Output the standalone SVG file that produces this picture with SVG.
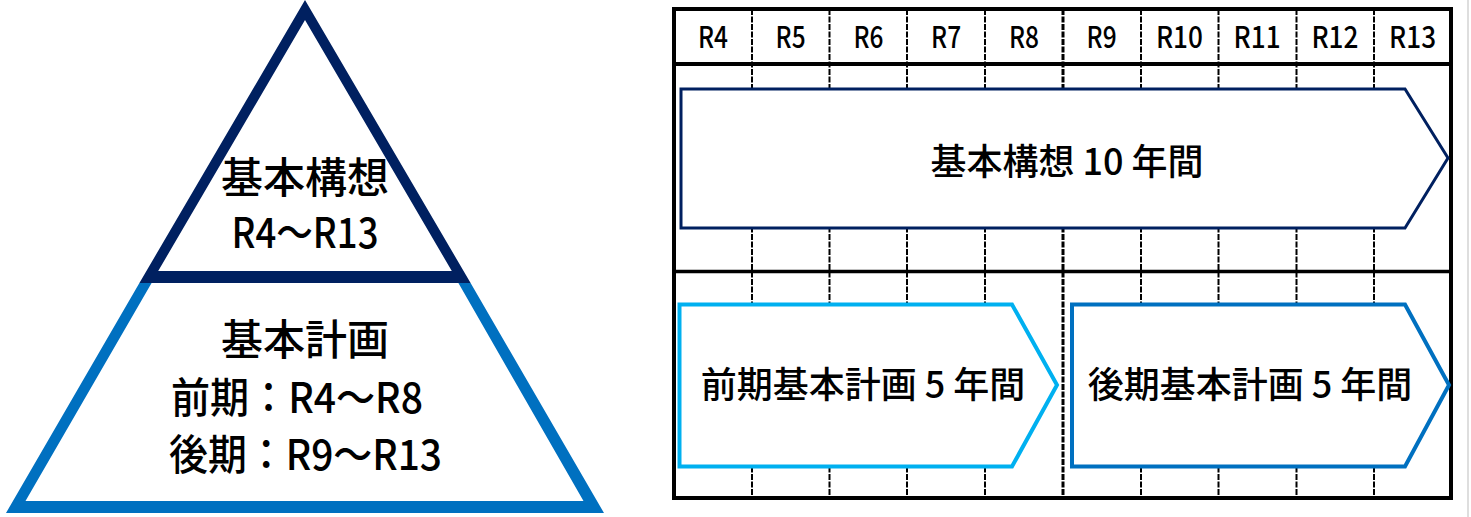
<svg xmlns="http://www.w3.org/2000/svg" width="1471" height="517" viewBox="0 0 1471 517">
<style>
text{font-family:"Noto Sans CJK JP","Noto Sans",sans-serif;fill:#000;font-weight:500}
.tri{font-size:42px}
.hdr{font-size:30px;text-anchor:middle}
.lbl{font-size:36px;text-anchor:middle}
.col{stroke:#000;stroke-width:2;stroke-dasharray:6 1.5;fill:none}
.border{stroke:#000;fill:none}
</style>
<rect width="1471" height="517" fill="#fff"/>
<g id="pyramid-top">
<path d="M305,0 L470.6,283 L139.4,283 Z M305,20 L451.8,271 L158.2,271 Z" fill="#002060" fill-rule="evenodd"/>
<text class="tri" x="305" y="193" text-anchor="middle">基本構想</text>
<text class="tri" x="305" y="248" text-anchor="middle" textLength="147" lengthAdjust="spacingAndGlyphs">R4～R13</text>
</g>
<g id="pyramid-base">
<path d="M139.4,283 L470.6,283 L604,513 L6,513 Z M151.6,283 L458.4,283 L583.5,501 L25.5,501 Z" fill="#0070C0" fill-rule="evenodd"/>
<text class="tri" x="305" y="355" text-anchor="middle">基本計画</text>
<text class="tri" x="171" y="413" textLength="252" lengthAdjust="spacingAndGlyphs">前期：R4～R8</text>
<text class="tri" x="169" y="470" textLength="273" lengthAdjust="spacingAndGlyphs">後期：R9～R13</text>
</g>
<g id="timeline-table">
<g class="col">
<line x1="752" y1="9" x2="752" y2="498"/>
<line x1="829.5" y1="9" x2="829.5" y2="498"/>
<line x1="907" y1="9" x2="907" y2="498"/>
<line x1="985" y1="9" x2="985" y2="498"/>
<line x1="1063" y1="9" x2="1063" y2="498" stroke-width="3"/>
<line x1="1141" y1="9" x2="1141" y2="498"/>
<line x1="1218.5" y1="9" x2="1218.5" y2="498"/>
<line x1="1296.5" y1="9" x2="1296.5" y2="498"/>
<line x1="1374" y1="9" x2="1374" y2="498"/>
</g>
<rect class="border" x="674" y="9" width="777" height="489" stroke-width="4"/>
<line class="border" x1="674" y1="64" x2="1451" y2="64" stroke-width="4"/>
<line class="border" x1="674" y1="271.5" x2="1451" y2="271.5" stroke-width="3.5"/>
<g>
<text class="hdr" x="713" y="48" textLength="30" lengthAdjust="spacingAndGlyphs">R4</text>
<text class="hdr" x="790.6" y="48" textLength="30" lengthAdjust="spacingAndGlyphs">R5</text>
<text class="hdr" x="868.4" y="48" textLength="30" lengthAdjust="spacingAndGlyphs">R6</text>
<text class="hdr" x="946.1" y="48" textLength="30" lengthAdjust="spacingAndGlyphs">R7</text>
<text class="hdr" x="1023.9" y="48" textLength="30" lengthAdjust="spacingAndGlyphs">R8</text>
<text class="hdr" x="1101.6" y="48" textLength="30" lengthAdjust="spacingAndGlyphs">R9</text>
<text class="hdr" x="1179.4" y="48" textLength="47" lengthAdjust="spacingAndGlyphs">R10</text>
<text class="hdr" x="1257.1" y="48" textLength="47" lengthAdjust="spacingAndGlyphs">R11</text>
<text class="hdr" x="1334.9" y="48" textLength="47" lengthAdjust="spacingAndGlyphs">R12</text>
<text class="hdr" x="1412.6" y="48" textLength="47" lengthAdjust="spacingAndGlyphs">R13</text>
</g>
</g>
<g id="arrow-vision">
<path d="M681,89 L1405,89 L1448,158 L1405,228 L681,228 Z" fill="#fff" stroke="#002060" stroke-width="3"/>
<text class="lbl" x="1067" y="175">基本構想 10 年間</text>
</g>
<g id="arrow-early">
<path d="M679.5,304.5 L1012,304.5 L1057,385 L1012,466.5 L679.5,466.5 Z" fill="#fff" stroke="#00B0F0" stroke-width="4"/>
<text class="lbl" x="863" y="398">前期基本計画 5 年間</text>
</g>
<g id="arrow-late">
<path d="M1072,304.5 L1405,304.5 L1449,385 L1405,466.5 L1072,466.5 Z" fill="#fff" stroke="#0070C0" stroke-width="4"/>
<text class="lbl" x="1250" y="398">後期基本計画 5 年間</text>
</g>
<line x1="1468" y1="0" x2="1468" y2="517" stroke="#bdbdbd" stroke-width="1"/>
</svg>
